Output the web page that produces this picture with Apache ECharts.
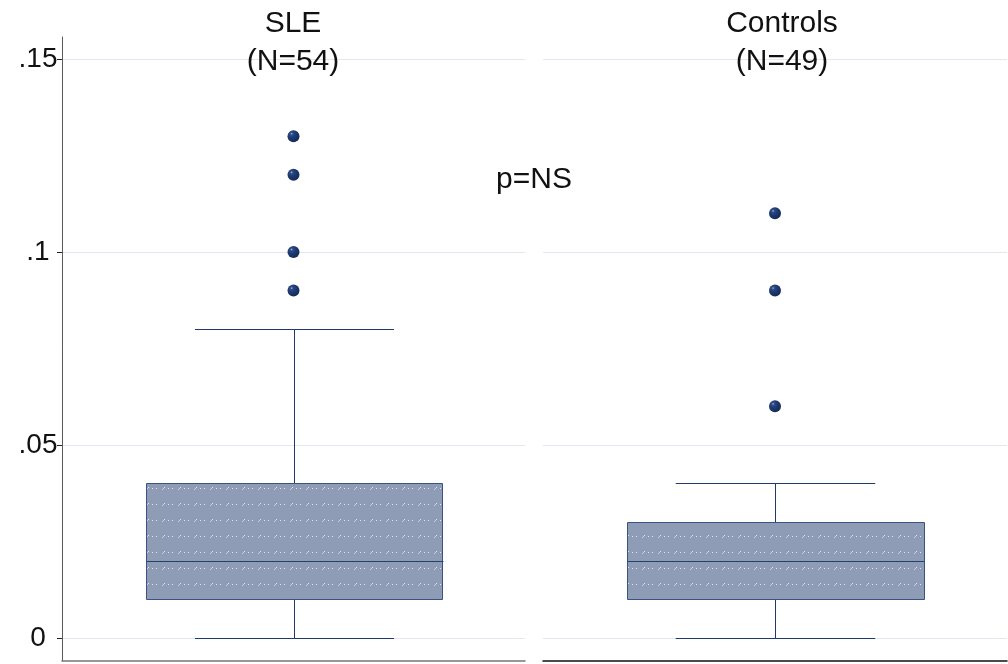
<!DOCTYPE html>
<html>
<head>
<meta charset="utf-8">
<title>SLE vs Controls</title>
<script src="https://cdn.jsdelivr.net/npm/echarts@6/dist/echarts.min.js"></script>
<style>
  html, body { margin: 0; padding: 0; background: #ffffff; }
  #chart { width: 1008px; height: 664px; }
</style>
</head>
<body>
<div id="chart"></div>
<script>
// Groups and their sizes
const groups = ['SLE', 'Controls'];
const groupN = [54, 49];

// Box statistics per group: [lower whisker, Q1, median, Q3, upper whisker]
const statsSLE = [0, 0.01, 0.02, 0.04, 0.08];
const statsControls = [0, 0.01, 0.02, 0.03, 0.04];

// Outside values per group
const outliersSLE = [0.09, 0.10, 0.12, 0.13];
const outliersControls = [0.06, 0.09, 0.11];

// Y axis ticks and the test annotation
const yTicks = [0, 0.05, 0.10, 0.15];
const pLabel = 'p=NS';

const FONT = '"Liberation Sans", Arial, Helvetica, sans-serif';
const NAVY = '#1f3a6d';
const BOX_FILL = '#8f9cb5';

// Small dotted tile used as the box texture
function makeTexture() {
  const c = document.createElement('canvas');
  c.width = 16; c.height = 16;
  const g = c.getContext('2d');
  g.fillStyle = BOX_FILL;
  g.fillRect(0, 0, 16, 16);
  g.fillStyle = 'rgba(240,243,250,0.6)';
  g.fillRect(2, 9, 1, 1);
  g.fillRect(3, 8, 1, 1);
  g.fillStyle = 'rgba(240,243,250,0.85)';
  g.fillRect(4, 7, 1, 1);
  g.fillRect(8, 8, 1, 1);
  g.fillRect(12, 8, 1, 1);
  return c;
}
const texture = makeTexture();

function yLabel(v) {
  if (v === 0) return '0';
  return String(+v.toFixed(2)).replace(/^0/, '');
}

// Draws box, median, whiskers and caps from the data through the axis scales
function renderBox(params, api) {
  const x = api.value(0);
  const pLo = api.coord([x, api.value(1)]);
  const pQ1 = api.coord([x, api.value(2)]);
  const pMed = api.coord([x, api.value(3)]);
  const pQ3 = api.coord([x, api.value(4)]);
  const pHi = api.coord([x, api.value(5)]);
  const band = api.size([1, 0])[0];
  const half = band * 0.32;
  const capHalf = band * 0.215;
  const cx = Math.round(pMed[0]) + 0.5;
  const r = (v) => Math.round(v) + 0.5;
  const lineStyle = { stroke: NAVY, lineWidth: 1, fill: null };
  return {
    type: 'group',
    children: [
      { type: 'line', shape: { x1: cx, y1: r(pQ3[1]), x2: cx, y2: r(pHi[1]) }, style: lineStyle },
      { type: 'line', shape: { x1: cx, y1: r(pQ1[1]), x2: cx, y2: r(pLo[1]) }, style: lineStyle },
      { type: 'line', shape: { x1: cx - capHalf, y1: r(pHi[1]), x2: cx + capHalf, y2: r(pHi[1]) }, style: lineStyle },
      { type: 'line', shape: { x1: cx - capHalf, y1: r(pLo[1]), x2: cx + capHalf, y2: r(pLo[1]) }, style: lineStyle },
      {
        type: 'rect',
        shape: { x: r(cx - half), y: r(pQ3[1]), width: Math.round(half * 2), height: Math.round(pQ1[1] - pQ3[1]) },
        style: { fill: { image: texture, repeat: 'repeat' }, stroke: '#3b5283', lineWidth: 1 }
      },
      { type: 'line', shape: { x1: r(cx - half), y1: r(pMed[1]), x2: r(cx + half), y2: r(pMed[1]) }, style: { stroke: '#27416f', lineWidth: 1 } }
    ]
  };
}

// Dark navy marker with a small glint
const dotColor = {
  type: 'radial', x: 0.34, y: 0.3, r: 0.75,
  colorStops: [
    { offset: 0, color: '#b4c3e0' },
    { offset: 0.14, color: '#2f4d88' },
    { offset: 0.45, color: '#1e3a72' },
    { offset: 1, color: '#142a56' }
  ]
};

const yMin = -0.006, yMax = 0.1557;

function yAxisFor(gridIndex, showAxis) {
  return {
    type: 'value', gridIndex, min: yMin, max: yMax,
    axisLine: { show: showAxis, lineStyle: { color: '#5a5a5a', width: 1 } },
    axisTick: { show: showAxis, length: 5, customValues: yTicks, lineStyle: { color: '#222' } },
    axisLabel: {
      show: showAxis, customValues: yTicks, formatter: yLabel, margin: 24, align: 'center',
      color: '#111', fontSize: 28, fontFamily: FONT
    },
    splitLine: { show: true, lineStyle: { color: '#e4e7ef', width: 1 } }
  };
}

function xAxisFor(gridIndex, name, color) {
  return {
    type: 'category', gridIndex, data: [name],
    axisLine: { show: true, onZero: false, lineStyle: { color, width: 1.5 } },
    axisTick: { show: false }, axisLabel: { show: false }, splitLine: { show: false }
  };
}

const titleText = { fontSize: 30, fontWeight: 'normal', color: '#111', fontFamily: FONT, lineHeight: 38 };

const chart = echarts.init(document.getElementById('chart'), null, { renderer: 'canvas' });
chart.setOption({
  backgroundColor: '#ffffff',
  animation: false,
  title: [
    { text: groups[0] + '\n(N=' + groupN[0] + ')', left: 293, top: 5, textAlign: 'center', padding: 0, textStyle: titleText },
    { text: groups[1] + '\n(N=' + groupN[1] + ')', left: 782, top: 5, textAlign: 'center', padding: 0, textStyle: titleText },
    { text: pLabel, left: 534, top: 165, textAlign: 'center', padding: 0,
      textStyle: { fontSize: 30, fontWeight: 'normal', color: '#111', fontFamily: FONT, lineHeight: 30 } }
  ],
  grid: [
    { left: 62, right: 483, top: 37, bottom: 3 },
    { left: 543, right: 1, top: 37, bottom: 3 }
  ],
  xAxis: [xAxisFor(0, groups[0], '#777777'), xAxisFor(1, groups[1], '#111111')],
  yAxis: [yAxisFor(0, true), yAxisFor(1, false)],
  series: [
    { type: 'custom', xAxisIndex: 0, yAxisIndex: 0, renderItem: renderBox,
      data: [[0].concat(statsSLE)], encode: { x: 0, y: [1, 2, 3, 4, 5] }, z: 2 },
    { type: 'custom', xAxisIndex: 1, yAxisIndex: 1, renderItem: renderBox,
      data: [[0].concat(statsControls)], encode: { x: 0, y: [1, 2, 3, 4, 5] }, z: 2 },
    { type: 'scatter', xAxisIndex: 0, yAxisIndex: 0, symbol: 'circle', symbolSize: 12,
      itemStyle: { color: dotColor, opacity: 1 }, data: outliersSLE.map(v => [0, v]), z: 3 },
    { type: 'scatter', xAxisIndex: 1, yAxisIndex: 1, symbol: 'circle', symbolSize: 12,
      itemStyle: { color: dotColor, opacity: 1 }, data: outliersControls.map(v => [0, v]), z: 3 }
  ]
});
</script>
</body>
</html>
